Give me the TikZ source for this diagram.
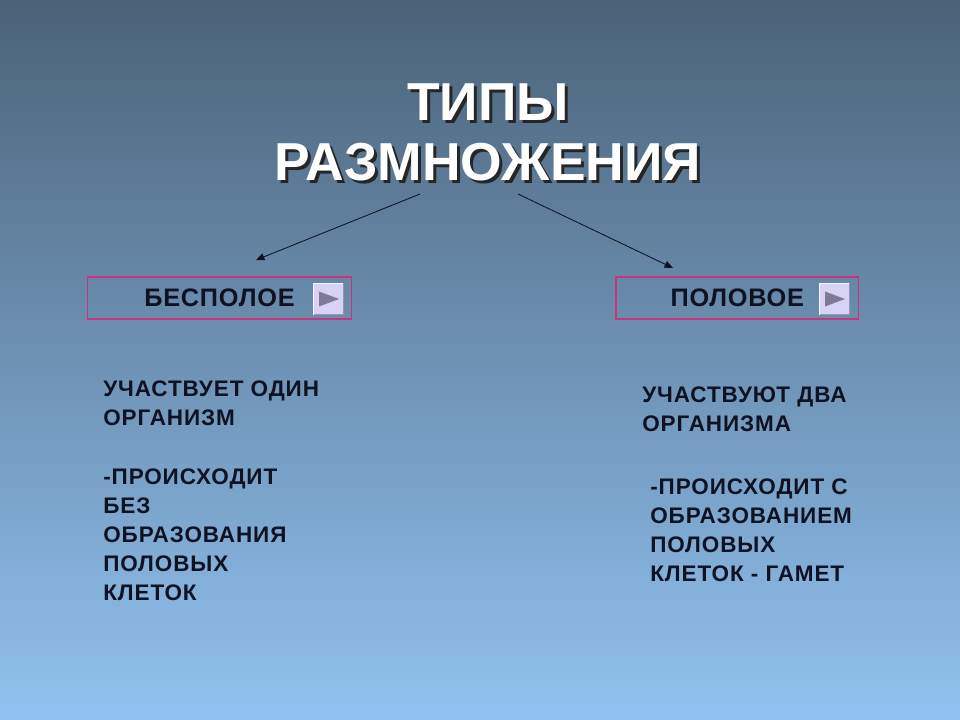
\documentclass[tikz,border=0pt]{standalone}
\usepackage{fontspec}
\setmainfont{Liberation Sans}
\usetikzlibrary{arrows.meta, positioning, calc}
\definecolor{bgtop}{HTML}{4A6278}
\definecolor{bgbot}{HTML}{92C2F0}
\definecolor{boxframe}{HTML}{C8347E}
\definecolor{ink}{HTML}{0E1222}
\definecolor{btnfill}{HTML}{D8D2F4}
\definecolor{btnarrow}{HTML}{7E7A98}

\begin{document}
\begin{tikzpicture}[x=0.025cm, y=-0.025cm,
  heading/.style={anchor=north, inner sep=0pt, align=center, font=\bfseries\fontsize{38}{42.7}\selectfont},
  typebox/.style={draw=boxframe, line width=0.9pt, minimum height=1.05cm, inner sep=0pt, text=ink, font=\bfseries\fontsize{18}{20}\selectfont\addfontfeature{LetterSpace=3}},
  btn/.style={fill=btnfill, minimum width=0.725cm, minimum height=0.775cm, inner sep=0pt},
  bodytext/.style={anchor=north west, inner sep=0pt, align=left, text=ink, font=\bfseries\fontsize{16}{20.6}\selectfont\addfontfeature{LetterSpace=4}},
  branch/.style={draw=ink, line width=0.6pt, -{Triangle[length=6pt,width=5pt]}}]
  % Hintergrund
  \shade[top color=bgtop, bottom color=bgbot] (0,0) rectangle (960,720);
  \useasboundingbox (0,0) rectangle (960,720);
  % Titel
  \node[heading, text=black!85] (titleshadow) at (491,86) {ТИПЫ\\РАЗМНОЖЕНИЯ};
  \node[heading, text=white] (title) at (488,83) {ТИПЫ\\РАЗМНОЖЕНИЯ};
  % Kaesten
  \node[typebox, minimum width=6.6cm] (bespoloe) at (219.5,298) {БЕСПОЛОЕ};
  \node[typebox, minimum width=6.07cm] (polovoe) at (737.3,298) {ПОЛОВОЕ};
  % Knoepfe
  \node[btn] (btnL) at (328.5,299) {};
  \node[btn] (btnR) at (834.5,299) {};
  \foreach \b in {btnL,btnR} {
    \draw[white!80!btnfill, line width=0.8pt] (\b.south west) -- (\b.north west) -- (\b.north east);
    \draw[btnarrow!70!btnfill, line width=0.8pt] (\b.north east) -- (\b.south east) -- (\b.south west);
    \fill[btnarrow] ($(\b.center)+(-9.5,-7.5)$) -- ($(\b.center)+(10.5,0)$) -- ($(\b.center)+(-9.5,7.5)$) -- cycle;
  }
  % Pfeile
  \coordinate (lstart) at (420,194);
  \coordinate (lend) at (256,260);
  \coordinate (rstart) at (518,194);
  \coordinate (rend) at (673,268);
  \draw[branch] (lstart) -- (lend);
  \draw[branch] (rstart) -- (rend);
  % Text
  \node[bodytext] (asexA) at (103,381) {УЧАСТВУЕТ ОДИН\\ОРГАНИЗМ};
  \node[bodytext] (asexB) at (103,469) {-ПРОИСХОДИТ\\БЕЗ\\ОБРАЗОВАНИЯ\\ПОЛОВЫХ\\КЛЕТОК};
  \node[bodytext] (sexA) at (642,387) {УЧАСТВУЮТ ДВА\\ОРГАНИЗМА};
  \node[bodytext] (sexB) at (650,479) {-ПРОИСХОДИТ С\\ОБРАЗОВАНИЕМ\\ПОЛОВЫХ\\КЛЕТОК - ГАМЕТ};
\end{tikzpicture}
\end{document}
